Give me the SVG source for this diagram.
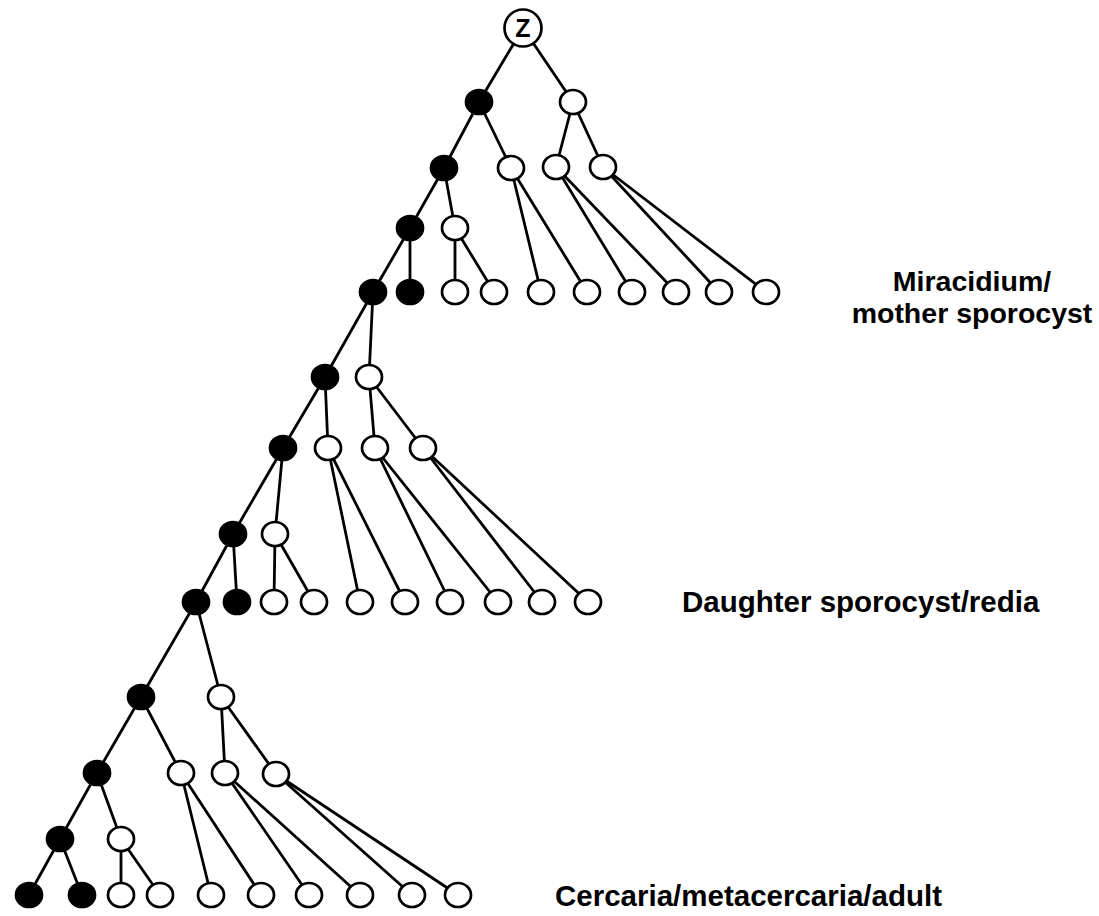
<svg xmlns="http://www.w3.org/2000/svg" width="1099" height="916" viewBox="0 0 1099 916">
<style>
.e{stroke:#000;stroke-width:2.8;fill:none;stroke-linecap:round}
.w{fill:#fff;stroke:#000;stroke-width:2.7}
.b{fill:#000;stroke:#000;stroke-width:2.7}
.lbl{font-family:"Liberation Sans",Arial,sans-serif;font-weight:bold;font-size:29.5px;fill:#000}
</style>
<defs>
<ellipse id="n" cx="0" cy="0" rx="13" ry="12"/>
</defs>
<rect width="1099" height="916" fill="#fff"/>
<g id="connectors" class="e">
<path d="M523,28L479,102M523,28L573,102M479,102L444,168M479,102L511,168M573,102L556,167M573,102L603,167M444,168L410,228M444,168L455,228M410,228L373,292M410,228L410,292M455,228L455,292M455,228L494,292M511,168L541,292M511,168L587,292M556,167L632,292M556,167L676,292M603,167L719,292M603,167L766,292"/>
<path d="M373,292L325,377M373,292L369,377M325,377L283,448M325,377L328,448M369,377L375,448M369,377L423,448M283,448L233,534M283,448L275,534M233,534L196,602M233,534L237,602M275,534L274,602M275,534L314,602M328,448L360,602M328,448L405,602M375,448L450,602M375,448L498,602M423,448L542,602M423,448L588,602"/>
<path d="M196,602L141,697M196,602L221,697M141,697L97,773M141,697L181,773M221,697L225,773M221,697L276,774M97,773L60,839M97,773L121,839M60,839L29,895M60,839L82,895M121,839L121,895M121,839L160,895M181,773L211,895M181,773L261,895M225,773L309,895M225,773L360,895M276,774L412,895M276,774L458,895"/>
</g>
<g id="node-z"><circle cx="523" cy="28" r="18.5" class="w"/><text x="523" y="37" text-anchor="middle" font-family="Liberation Sans,Arial,sans-serif" font-weight="bold" font-size="25">Z</text></g>
<g id="t1-a1"><use href="#n" x="479" y="102" class="b"/></g>
<g id="t1-a2"><use href="#n" x="573" y="102" class="w"/></g>
<g id="t1-b1"><use href="#n" x="444" y="168" class="b"/></g>
<g id="t1-b2"><use href="#n" x="511" y="168" class="w"/></g>
<g id="t1-b3"><use href="#n" x="556" y="167" class="w"/></g>
<g id="t1-b4"><use href="#n" x="603" y="167" class="w"/></g>
<g id="t1-c1"><use href="#n" x="410" y="228" class="b"/></g>
<g id="t1-c2"><use href="#n" x="455" y="228" class="w"/></g>
<g id="t1-l1"><use href="#n" x="373" y="292" class="b"/></g>
<g id="t1-l2"><use href="#n" x="410" y="292" class="b"/></g>
<g id="t1-l3"><use href="#n" x="455" y="292" class="w"/></g>
<g id="t1-l4"><use href="#n" x="494" y="292" class="w"/></g>
<g id="t1-l5"><use href="#n" x="541" y="292" class="w"/></g>
<g id="t1-l6"><use href="#n" x="587" y="292" class="w"/></g>
<g id="t1-l7"><use href="#n" x="632" y="292" class="w"/></g>
<g id="t1-l8"><use href="#n" x="676" y="292" class="w"/></g>
<g id="t1-l9"><use href="#n" x="719" y="292" class="w"/></g>
<g id="t1-l10"><use href="#n" x="766" y="292" class="w"/></g>
<g id="t2-a1"><use href="#n" x="325" y="377" class="b"/></g>
<g id="t2-a2"><use href="#n" x="369" y="377" class="w"/></g>
<g id="t2-b1"><use href="#n" x="283" y="448" class="b"/></g>
<g id="t2-b2"><use href="#n" x="328" y="448" class="w"/></g>
<g id="t2-b3"><use href="#n" x="375" y="448" class="w"/></g>
<g id="t2-b4"><use href="#n" x="423" y="448" class="w"/></g>
<g id="t2-c1"><use href="#n" x="233" y="534" class="b"/></g>
<g id="t2-c2"><use href="#n" x="275" y="534" class="w"/></g>
<g id="t2-l1"><use href="#n" x="196" y="602" class="b"/></g>
<g id="t2-l2"><use href="#n" x="237" y="602" class="b"/></g>
<g id="t2-l3"><use href="#n" x="274" y="602" class="w"/></g>
<g id="t2-l4"><use href="#n" x="314" y="602" class="w"/></g>
<g id="t2-l5"><use href="#n" x="360" y="602" class="w"/></g>
<g id="t2-l6"><use href="#n" x="405" y="602" class="w"/></g>
<g id="t2-l7"><use href="#n" x="450" y="602" class="w"/></g>
<g id="t2-l8"><use href="#n" x="498" y="602" class="w"/></g>
<g id="t2-l9"><use href="#n" x="542" y="602" class="w"/></g>
<g id="t2-l10"><use href="#n" x="588" y="602" class="w"/></g>
<g id="t3-a1"><use href="#n" x="141" y="697" class="b"/></g>
<g id="t3-a2"><use href="#n" x="221" y="697" class="w"/></g>
<g id="t3-b1"><use href="#n" x="97" y="773" class="b"/></g>
<g id="t3-b2"><use href="#n" x="181" y="773" class="w"/></g>
<g id="t3-b3"><use href="#n" x="225" y="773" class="w"/></g>
<g id="t3-b4"><use href="#n" x="276" y="774" class="w"/></g>
<g id="t3-c1"><use href="#n" x="60" y="839" class="b"/></g>
<g id="t3-c2"><use href="#n" x="121" y="839" class="w"/></g>
<g id="t3-l1"><use href="#n" x="29" y="895" class="b"/></g>
<g id="t3-l2"><use href="#n" x="82" y="895" class="b"/></g>
<g id="t3-l3"><use href="#n" x="121" y="895" class="w"/></g>
<g id="t3-l4"><use href="#n" x="160" y="895" class="w"/></g>
<g id="t3-l5"><use href="#n" x="211" y="895" class="w"/></g>
<g id="t3-l6"><use href="#n" x="261" y="895" class="w"/></g>
<g id="t3-l7"><use href="#n" x="309" y="895" class="w"/></g>
<g id="t3-l8"><use href="#n" x="360" y="895" class="w"/></g>
<g id="t3-l9"><use href="#n" x="412" y="895" class="w"/></g>
<g id="t3-l10"><use href="#n" x="458" y="895" class="w"/></g>
<g id="labels">
<text class="lbl" x="972" y="291" text-anchor="middle" style="font-size:28.5px">Miracidium/</text>
<text class="lbl" x="972" y="323" text-anchor="middle" style="font-size:28.5px">mother sporocyst</text>
<text class="lbl" x="682" y="612">Daughter sporocyst/redia</text>
<text class="lbl" x="555" y="906">Cercaria/metacercaria/adult</text>
</g>
</svg>
